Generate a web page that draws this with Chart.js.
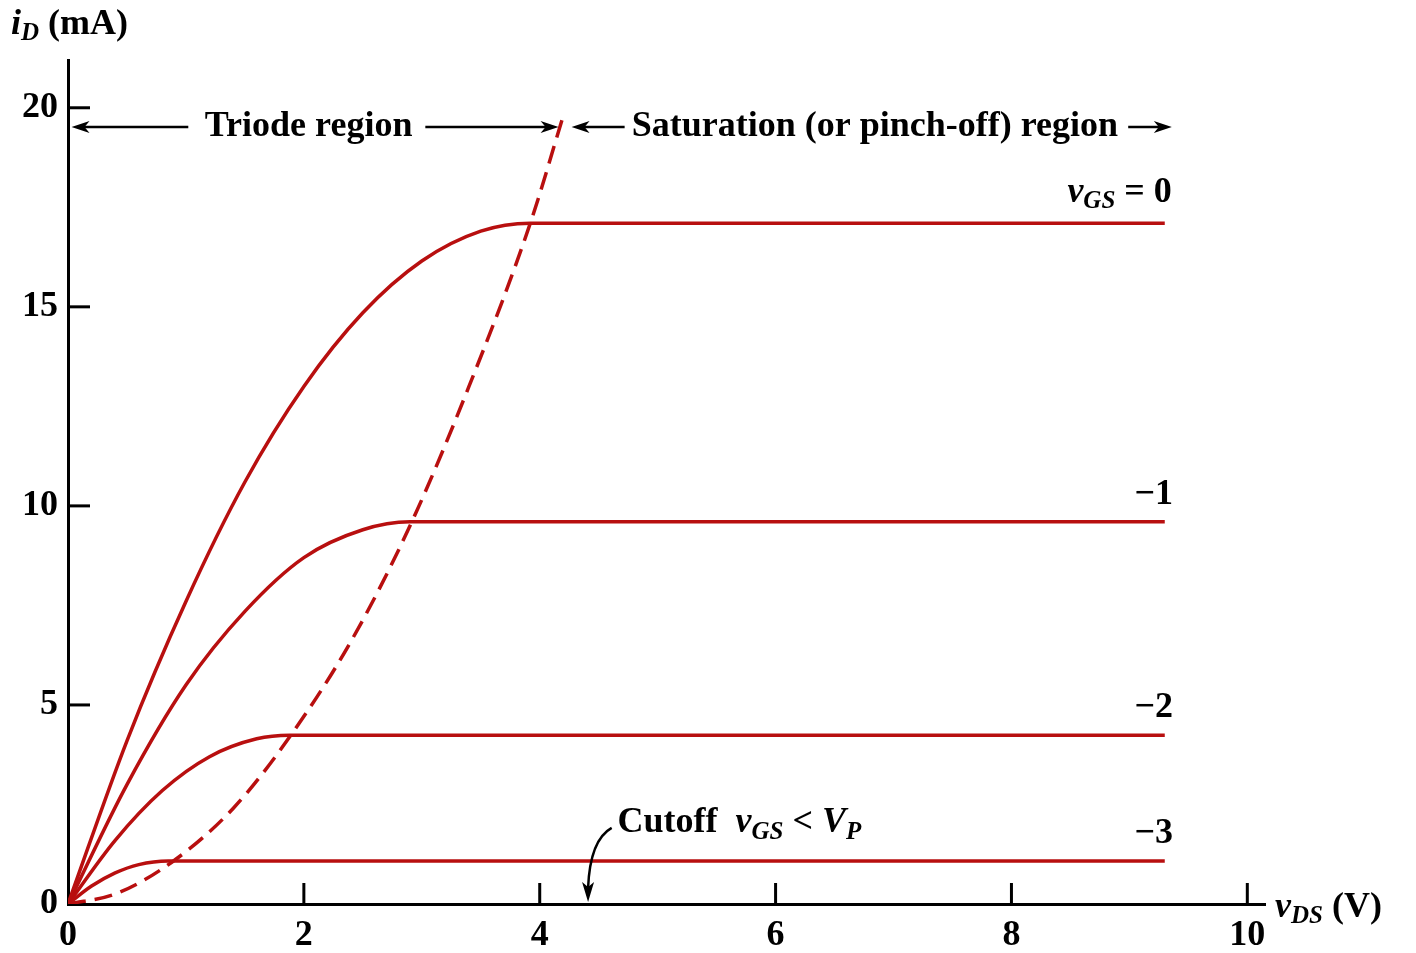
<!DOCTYPE html>
<html>
<head>
<meta charset="utf-8">
<script src="https://cdn.jsdelivr.net/npm/chart.js@4"></script>
<style>
  html, body { margin: 0; padding: 0; background: #fff; }
  #wrap { width: 1416px; height: 953px; }
</style>
</head>
<body>
<div id="wrap"><canvas id="chart"></canvas></div>
<script>
// readings: vDS (V) against iD (mA)
const vgs0X = [0, 0.5, 1, 1.5, 2, 2.5, 3, 3.5, 3.92, 9.3]
const vgs0Y = [0, 4.1, 7.6, 10.6, 13.0, 14.85, 16.15, 16.9, 17.1, 17.1]
const vgs1X = [0, 0.5, 1, 1.5, 2, 2.5, 2.9, 9.3]
const vgs1Y = [0, 3.0, 5.5, 7.35, 8.7, 9.4, 9.6, 9.6]
const vgs2X = [0, 0.4, 0.8, 1.2, 1.6, 1.88, 9.3]
const vgs2Y = [0, 1.6, 2.85, 3.7, 4.15, 4.24, 4.24]
const vgs3X = [0, 0.2, 0.4, 0.6, 0.85, 9.3]
const vgs3Y = [0, 0.45, 0.78, 0.99, 1.08, 1.08]
const pinchX = [0, 0.4, 0.88, 1.4, 1.88, 2.4, 2.9, 3.4, 3.92, 4.2]
const pinchY = [0, 0.25, 1.05, 2.4, 4.2, 6.6, 9.5, 13.0, 17.1, 19.8]
const curveLabels = ['0', '\u22121', '\u22122', '\u22123']
const curveLabelY = [17.1, 9.6, 4.24, 1.08]

const red = '#b80f0f'
const serif = '"Liberation Serif", "DejaVu Serif", serif'

function mkSet(xs, ys, dash) {
  return {
    data: xs.map((x, i) => ({ x: x, y: ys[i] })),
    borderColor: red,
    borderWidth: 3.5,
    pointRadius: 0,
    fill: false,
    cubicInterpolationMode: 'monotone',
    borderDash: dash || []
  }
}

function fontOf(p) {
  return (p[1] ? 'italic ' : '') + 'bold ' + (p[2] ? 25 : 36) + 'px ' + serif
}

// parts: [text, italic, subscript]
function rich(ctx, parts, x, y, align) {
  let w = 0
  parts.forEach(p => { ctx.font = fontOf(p); w += ctx.measureText(p[0]).width })
  let cx = align === 'right' ? x - w : align === 'center' ? x - w / 2 : x
  ctx.textAlign = 'left'
  ctx.textBaseline = 'middle'
  parts.forEach(p => {
    ctx.font = fontOf(p)
    ctx.fillText(p[0], cx, y + (p[2] ? 9 : 0))
    cx += ctx.measureText(p[0]).width
  })
}

function arrow(ctx, x1, x2, y) {
  const dir = x2 > x1 ? 1 : -1
  ctx.beginPath()
  ctx.moveTo(x1, y)
  ctx.lineTo(x2 - dir * 10, y)
  ctx.stroke()
  ctx.beginPath()
  ctx.moveTo(x2, y)
  ctx.lineTo(x2 - dir * 18, y - 6)
  ctx.lineTo(x2 - dir * 13, y)
  ctx.lineTo(x2 - dir * 18, y + 6)
  ctx.closePath()
  ctx.fill()
}

const decor = {
  id: 'decor',
  afterDraw(chart) {
    const ctx = chart.ctx
    const xs = chart.scales.x
    const ys = chart.scales.y
    const X = v => xs.getPixelForValue(v)
    const Y = v => ys.getPixelForValue(v)
    ctx.save()
    ctx.strokeStyle = '#000'
    ctx.fillStyle = '#000'
    ctx.lineWidth = 3
    // tick marks pointing into the plot
    xs.ticks.forEach(t => {
      if (t.value === 0) return
      ctx.beginPath()
      ctx.moveTo(X(t.value), Y(0))
      ctx.lineTo(X(t.value), Y(0) - 21)
      ctx.stroke()
    })
    ys.ticks.forEach(t => {
      if (t.value === 0) return
      ctx.beginPath()
      ctx.moveTo(X(0), Y(t.value))
      ctx.lineTo(X(0) + 22, Y(t.value))
      ctx.stroke()
    })

    // region annotations
    ctx.lineWidth = 2.5
    const ty = Y(19.52)
    rich(ctx, [['Triode region', false, false]], X(2.04), ty, 'center')
    arrow(ctx, X(1.02), X(0.03), ty)
    arrow(ctx, X(3.03), X(4.16), ty)
    arrow(ctx, X(4.72), X(4.27), ty)
    rich(ctx, [['Saturation (or pinch-off) region', false, false]], X(4.78), ty, 'left')
    arrow(ctx, X(8.99), X(9.36), ty)

    // vGS labels
    curveLabels.forEach((lab, i) => {
      const y = Y(curveLabelY[i]) - 27
      if (i === 0) {
        rich(ctx, [['v', true, false], ['GS', true, true], [' = 0', false, false]], X(9.36), y - 4, 'right')
      } else {
        rich(ctx, [[lab, false, false]], X(9.37), y, 'right')
      }
    })

    // cutoff note
    rich(ctx, [['Cutoff  ', false, false], ['v', true, false], ['GS', true, true], [' < ', false, false], ['V', true, false], ['P', true, true]], X(4.66), Y(2.03), 'left')
    const ax0 = X(4.61), ay0 = Y(1.91)
    const ax1 = X(4.41), ay1 = Y(0) - 2
    ctx.beginPath()
    ctx.moveTo(ax0, ay0)
    ctx.quadraticCurveTo(ax1 + 2, ay0 + 12, ax1, ay1 - 14)
    ctx.stroke()
    ctx.beginPath()
    ctx.moveTo(ax1, ay1)
    ctx.lineTo(ax1 - 6, ay1 - 20)
    ctx.lineTo(ax1, ay1 - 15)
    ctx.lineTo(ax1 + 6, ay1 - 20)
    ctx.closePath()
    ctx.fill()

    // axis titles
    rich(ctx, [['i', true, false], ['D', true, true], [' (mA)', false, false]], 11, 25, 'left')
    rich(ctx, [['v', true, false], ['DS', true, true], [' (V)', false, false]], 1275, 908, 'left')
    ctx.restore()
  }
}

const tickFont = { family: serif, size: 36, weight: 'bold' }

new Chart(document.getElementById('chart'), {
  type: 'line',
  data: {
    datasets: [
      mkSet(vgs0X, vgs0Y),
      mkSet(vgs1X, vgs1Y),
      mkSet(vgs2X, vgs2Y),
      mkSet(vgs3X, vgs3Y),
      mkSet(pinchX, pinchY, [18, 9])
    ]
  },
  options: {
    responsive: true,
    maintainAspectRatio: false,
    animation: false,
    layout: { padding: { left: 0, right: 151, top: 60, bottom: 0 } },
    plugins: { legend: { display: false }, tooltip: { enabled: false } },
    scales: {
      x: {
        type: 'linear',
        min: 0,
        max: 10.15,
        border: { color: '#000', width: 3 },
        grid: { drawOnChartArea: false, drawTicks: false },
        ticks: { stepSize: 2, includeBounds: false, color: '#000', font: tickFont, padding: 10 },
        afterFit: s => { s.height = 49 }
      },
      y: {
        min: 0,
        max: 21.2,
        border: { color: '#000', width: 3 },
        grid: { drawOnChartArea: false, drawTicks: false },
        ticks: { stepSize: 5, includeBounds: false, color: '#000', font: tickFont, padding: 10 },
        afterFit: s => { s.width = 68 }
      }
    }
  },
  plugins: [decor]
})
</script>
</body>
</html>
